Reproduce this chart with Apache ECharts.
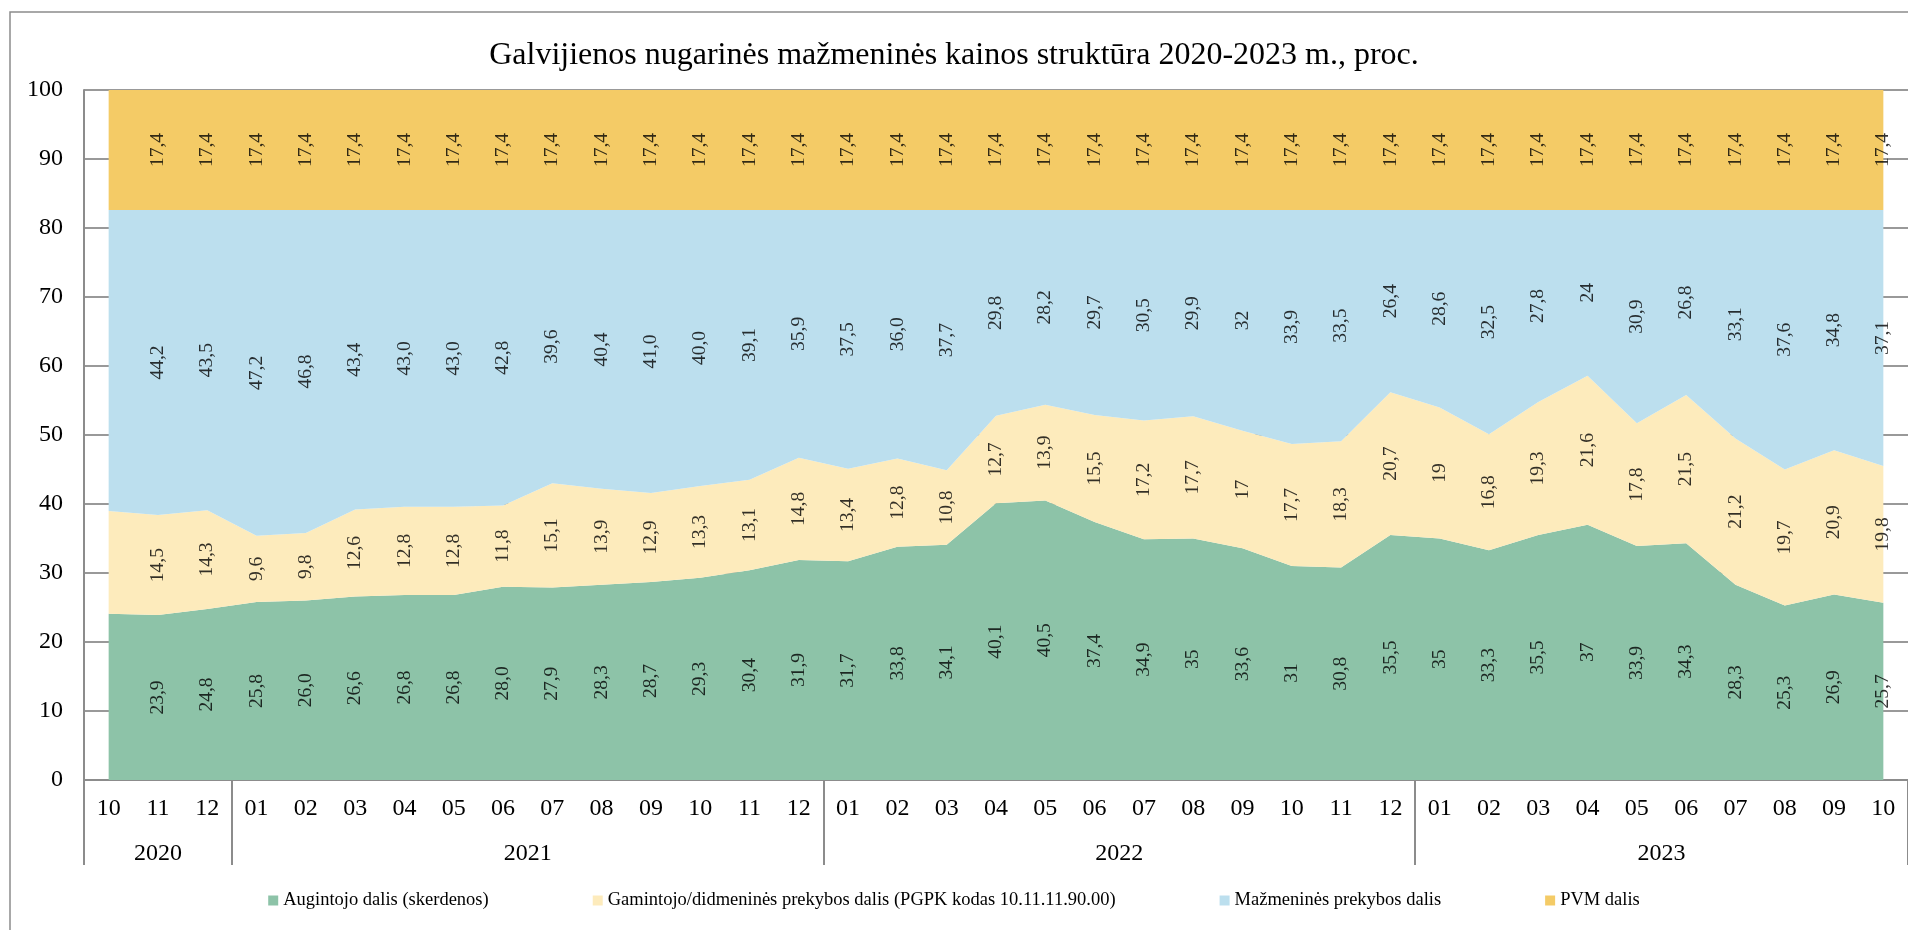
<!DOCTYPE html>
<html>
<head>
<meta charset="utf-8">
<script src="https://cdn.jsdelivr.net/npm/echarts@6/dist/echarts.min.js"></script>
<style>
  html, body { margin: 0; padding: 0; background: #fff; }
  #chart { width: 1908px; height: 930px; }
</style>
</head>
<body>
<div id="chart"></div>
<script>
// menesiai (2020-10 ... 2023-10)
const months = ['10','11','12','01','02','03','04','05','06','07','08','09','10','11','12',
  '01','02','03','04','05','06','07','08','09','10','11','12',
  '01','02','03','04','05','06','07','08','09','10']
const years = ['2020', '2021', '2022', '2023']
const monthsPerYear = [3, 12, 12, 10]

const names = [
  'Augintojo dalis (skerdenos)',
  'Gamintojo/didmeninės prekybos dalis (PGPK kodas 10.11.11.90.00)',
  'Mažmeninės prekybos dalis',
  'PVM dalis'
]
// reikšmės kaip tekstas, kad etiketės rodytų tą patį formatą
const grower = ['24.1','23.9','24.8','25.8','26.0','26.6','26.8','26.8','28.0','27.9','28.3','28.7','29.3','30.4','31.9',
  '31.7','33.8','34.1','40.1','40.5','37.4','34.9','35','33.6','31','30.8','35.5',
  '35','33.3','35.5','37','33.9','34.3','28.3','25.3','26.9','25.7']
const producer = ['14.9','14.5','14.3','9.6','9.8','12.6','12.8','12.8','11.8','15.1','13.9','12.9','13.3','13.1','14.8',
  '13.4','12.8','10.8','12.7','13.9','15.5','17.2','17.7','17','17.7','18.3','20.7',
  '19','16.8','19.3','21.6','17.8','21.5','21.2','19.7','20.9','19.8']
const retail = ['43.6','44.2','43.5','47.2','46.8','43.4','43.0','43.0','42.8','39.6','40.4','41.0','40.0','39.1','35.9',
  '37.5','36.0','37.7','29.8','28.2','29.7','30.5','29.9','32','33.9','33.5','26.4',
  '28.6','32.5','27.8','24','30.9','26.8','33.1','37.6','34.8','37.1']
const vat = ['17.4','17.4','17.4','17.4','17.4','17.4','17.4','17.4','17.4','17.4','17.4','17.4','17.4','17.4','17.4',
  '17.4','17.4','17.4','17.4','17.4','17.4','17.4','17.4','17.4','17.4','17.4','17.4',
  '17.4','17.4','17.4','17.4','17.4','17.4','17.4','17.4','17.4','17.4']

const yDatas = [grower, producer, retail, vat]
const colors = ['#8dc3a8', '#fdebbc', '#bcdfee', '#f4cb66']
const font = "'Liberation Serif', 'Times New Roman', serif"

// metų ribos ir vidurys
const yearTicks = [0]
const yearMid = []
monthsPerYear.forEach((n, i) => {
  const start = yearTicks[i]
  yearTicks.push(start + n)
  yearMid.push(start + n / 2)
})

const getchart = echarts.init(document.getElementById('chart'))
const option = {
  animation: false,
  title: {
    text: 'Galvijienos nugarinės mažmeninės kainos struktūra 2020-2023 m., proc.',
    left: 'center',
    top: 35,
    textStyle: { fontFamily: font, fontSize: 32, fontWeight: 'normal', color: '#000' }
  },
  graphic: [{
    type: 'rect',
    shape: { x: 10, y: 12, width: 2000, height: 1000 },
    style: { fill: 'none', stroke: '#8c8c8c', lineWidth: 1.5 },
    silent: true
  }],
  legend: {
    data: names,
    left: 'center',
    top: 886,
    icon: 'rect',
    itemWidth: 10,
    itemHeight: 10,
    itemGap: 104,
    textStyle: { fontFamily: font, fontSize: 18.5, color: '#000' }
  },
  grid: { left: 84, top: 90, width: 1827, height: 690 },
  xAxis: [
    {
      type: 'category',
      boundaryGap: true,
      data: months,
      axisLine: { lineStyle: { color: '#8c8c8c', width: 2 } },
      axisTick: { show: false },
      axisLabel: { fontFamily: font, fontSize: 24, color: '#000', margin: 17, interval: 0 }
    },
    {
      type: 'value',
      min: 0,
      max: months.length,
      position: 'bottom',
      axisLine: { show: false },
      splitLine: { show: false },
      axisTick: { show: true, customValues: yearTicks, length: 85, lineStyle: { color: '#8c8c8c', width: 2 } },
      axisLabel: {
        customValues: yearMid,
        formatter: (v) => years[yearMid.indexOf(v)],
        fontFamily: font, fontSize: 24, color: '#000', margin: 62
      }
    }
  ],
  yAxis: {
    type: 'value',
    min: 0,
    max: 100,
    interval: 10,
    axisLine: { show: true, lineStyle: { color: '#8c8c8c', width: 2 } },
    axisTick: { show: false },
    splitLine: { lineStyle: { color: '#999', width: 2 } },
    axisLabel: { fontFamily: font, fontSize: 24, color: '#000', margin: 21 }
  },
  series: []
}

// sukrautos sritys
for (let k = 0; k < yDatas.length; k++) {
  option.series.push({
    name: names[k],
    type: 'line',
    stack: 'total',
    data: yDatas[k],
    symbol: 'none',
    color: colors[k],
    lineStyle: { width: 0 },
    areaStyle: { color: colors[k], opacity: 1 }
  })
}

// etiketės juostų viduryje
const base = months.map(() => 0)
for (let k = 0; k < yDatas.length; k++) {
  const yData = yDatas[k]
  const pts = yData.map((v, i) => [i, base[i] + parseFloat(v) / 2])
  yData.forEach((v, i) => { base[i] += parseFloat(v) })
  option.series.push({
    name: 'lbl' + k,
    type: 'scatter',
    data: pts,
    symbolSize: 0,
    silent: true,
    z: 5,
    label: {
      show: true,
      position: 'inside',
      rotate: 90,
      fontFamily: font,
      fontSize: 19.5,
      color: '#000',
      formatter: (p) => p.dataIndex === 0 ? '' : yData[p.dataIndex].replace('.', ',')
    }
  })
}

getchart.setOption(option)
</script>
</body>
</html>
